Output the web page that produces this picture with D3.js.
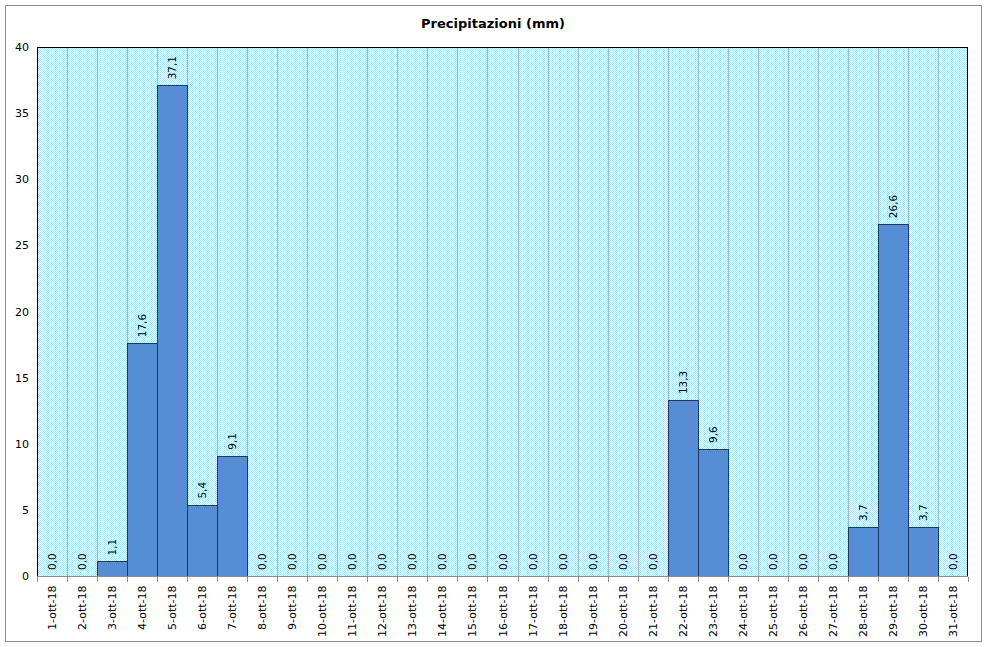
<!DOCTYPE html>
<html><head><meta charset="utf-8">
<script src="https://cdn.jsdelivr.net/npm/d3@7"></script>
<style>body{margin:0;background:#fff}svg{display:block}</style>
</head><body>
<script>
const categories = ["1-ott-18","2-ott-18","3-ott-18","4-ott-18","5-ott-18","6-ott-18","7-ott-18","8-ott-18","9-ott-18","10-ott-18","11-ott-18","12-ott-18","13-ott-18","14-ott-18","15-ott-18","16-ott-18","17-ott-18","18-ott-18","19-ott-18","20-ott-18","21-ott-18","22-ott-18","23-ott-18","24-ott-18","25-ott-18","26-ott-18","27-ott-18","28-ott-18","29-ott-18","30-ott-18","31-ott-18"];
const values = [0,0,1.1,17.6,37.1,5.4,9.1,0,0,0,0,0,0,0,0,0,0,0,0,0,0,13.3,9.6,0,0,0,0,3.7,26.6,3.7,0];
const yTicks = [0,5,10,15,20,25,30,35,40];
const title = "Precipitazioni (mm)";

const W = 986, H = 647;
const m = {left:37, right:968, top:47, bottom:576};
const font = "'DejaVu Sans', Verdana, sans-serif";
const svg = d3.select("body").append("svg").attr("width", W).attr("height", H).attr("shape-rendering","crispEdges");

const defs = svg.append("defs");
const pat = defs.append("pattern").attr("id","chk").attr("width",2).attr("height",2).attr("patternUnits","userSpaceOnUse");
pat.append("rect").attr("width",2).attr("height",2).attr("fill","#ffffff");
pat.append("rect").attr("x",0).attr("y",0).attr("width",1).attr("height",1).attr("fill","#b3e3ee");
pat.append("rect").attr("x",1).attr("y",1).attr("width",1).attr("height",1).attr("fill","#b3e3ee");

// outer frame
svg.append("rect").attr("x",5.5).attr("y",5.5).attr("width",976).attr("height",636)
  .attr("fill","#fff").attr("stroke","#8c8c8c").attr("stroke-width",1);

svg.append("text").attr("x",493).attr("y",28).attr("text-anchor","middle")
  .attr("font-family",font).attr("font-size",13).attr("font-weight","bold").attr("fill","#000").text(title);

const x = d3.scaleBand().domain(categories).range([m.left, m.right]).padding(0);
const y = d3.scaleLinear().domain([0,40]).range([m.bottom, m.top]);

svg.append("rect").attr("x",m.left).attr("y",m.top).attr("width",m.right-m.left).attr("height",m.bottom-m.top).attr("fill","url(#chk)");

// vertical gridlines at category boundaries
svg.append("g").selectAll("line").data(categories.slice(1)).join("line")
  .attr("x1", d=>Math.round(x(d))+0.5).attr("x2", d=>Math.round(x(d))+0.5)
  .attr("y1", m.top).attr("y2", m.bottom).attr("stroke","#a9b6bc").attr("stroke-width",1);

// bars
const barData = categories.map((c,i)=>({c,v:values[i]}));
svg.append("g").selectAll("rect").data(barData.filter(d=>d.v>0)).join("rect")
  .attr("x", d=>Math.round(x(d.c))+0.5)
  .attr("y", d=>Math.round(y(d.v))+0.5)
  .attr("width", d=>Math.round(x(d.c)+x.bandwidth())-Math.round(x(d.c)))
  .attr("height", d=>Math.round(y(0))-Math.round(y(d.v)))
  .attr("fill","#558ed5").attr("stroke","#1f3864").attr("stroke-width",1);

// plot border: top/left/right black
svg.append("path").attr("d",`M${m.left+0.5},${m.bottom}V${m.top+0.5}H${m.right-0.5}V${m.bottom}`)
  .attr("fill","none").attr("stroke","#000").attr("stroke-width",1);

// x axis
const xAxis = svg.append("g").attr("transform",`translate(0,${m.bottom+0.5})`);
xAxis.append("line").attr("x1",m.left).attr("x2",m.right).attr("stroke","#8c8c8c");
xAxis.selectAll("line.t").data(d3.range(categories.length+1)).join("line").attr("class","t")
  .attr("x1",i=>Math.round(m.left + i*x.step())+0.5).attr("x2",i=>Math.round(m.left + i*x.step())+0.5)
  .attr("y1",0).attr("y2",5).attr("stroke","#8c8c8c");
xAxis.selectAll("text").data(categories).join("text")
  .attr("transform", d=>`translate(${x(d)+x.bandwidth()/2+4},9) rotate(-90)`)
  .attr("text-anchor","end").attr("font-family",font).attr("font-size",11).attr("fill","#000")
  .attr("shape-rendering","auto").text(d=>d);

// y axis labels
const yAxis = d3.axisLeft(y).tickValues(yTicks).tickSize(0).tickPadding(8).tickFormat(d3.format("d"));
const ya = svg.append("g").attr("transform",`translate(${m.left},0)`).call(yAxis);
ya.select(".domain").remove();
ya.selectAll("text").attr("font-family",font).attr("font-size",11).attr("fill","#000");

// value labels
const fmt = d3.formatLocale({decimal:",",thousands:".",grouping:[3],currency:["","€"]}).format(".1f");
svg.append("g").selectAll("text").data(barData).join("text")
  .attr("transform", d=>`translate(${x(d.c)+x.bandwidth()/2+4},${y(d.v)-6}) rotate(-90)`)
  .attr("text-anchor","start").attr("font-family",font).attr("font-size",10.5).attr("fill","#000")
  .text(d=>fmt(d.v));
</script>
</body></html>
